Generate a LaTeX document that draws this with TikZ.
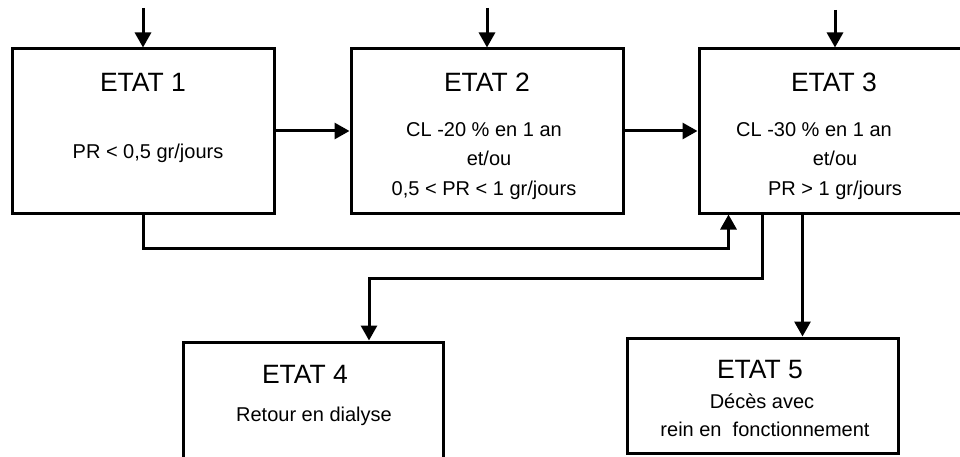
\documentclass[tikz,border=0pt]{standalone}
\usepackage{fontspec}
\setmainfont{Liberation Sans}
\usetikzlibrary{arrows.meta,calc}
\begin{document}
\begin{tikzpicture}[x=1pt,y=-1pt,
  box/.style={draw,line width=3pt,rectangle,inner sep=0pt},
  arr/.style={line width=3pt,-{Triangle[length=15pt,width=16pt]}},
  ttl/.style={anchor=base,inner sep=0pt,font=\fontsize{26.5}{30}\selectfont},
  txt/.style={anchor=base,inner sep=0pt,font=\fontsize{20}{24}\selectfont}]
\useasboundingbox (0,0) rectangle (960,457);
\clip (0,0) rectangle (960,457);
% boxes
\node[box,minimum width=262pt,minimum height=164pt] (e1) at (143,131) {};
\node[box,minimum width=272pt,minimum height=164pt] (e2) at (487,131) {};
\node[box,minimum width=280pt,minimum height=164pt] (e3) at (839,131) {};
\node[box,minimum width=260pt,minimum height=138pt] (e4) at (313,411) {};
\node[box,minimum width=271pt,minimum height=115pt] (e5) at (762.5,395.5) {};
% texts
\node[ttl] (e1t) at (143,92) {ETAT 1};
\node[txt] (e1a) at (148,159) {PR < 0,5 gr/jours};
\node[ttl] (e2t) at (487,92) {ETAT 2};
\node[txt] (e2a) at (484,137) {CL -20 \% en 1 an};
\node[txt] (e2b) at (489,166) {et/ou};
\node[txt] (e2c) at (484,195) {0,5 < PR < 1 gr/jours};
\node[ttl] (e3t) at (834,92) {ETAT 3};
\node[txt] (e3a) at (814,137) {CL -30 \% en 1 an};
\node[txt] (e3b) at (835,166) {et/ou};
\node[txt] (e3c) at (835,195) {PR > 1 gr/jours};
\node[ttl] (e4t) at (305,383) {ETAT 4};
\node[txt] (e4a) at (314,421) {Retour en dialyse};
\node[ttl] (e5t) at (760,378) {ETAT 5};
\node[txt] (e5a) at (762,408) {Décès avec};
\node[txt] (e5b) at (765,436) {rein en\ \ fonctionnement};
% incoming arrows
\coordinate (t1) at (143,8);
\coordinate (t2) at (487,8);
\coordinate (t3) at (835,10);
\draw[arr] (t1) -- (t1 |- e1.north);
\draw[arr] (t2) -- (t2 |- e2.north);
\draw[arr] (t3) -- (t3 |- e3.north);
% transitions
\draw[arr] (e1.east) -- (e2.west);
\draw[arr] (e2.east) -- (e3.west);
\coordinate (in3) at ([xshift=31pt]e3.south west);
\draw[arr] (e1.south) |- ($(in3)+(0,34)$) -- (in3);
\coordinate (o4) at ([xshift=65pt]e3.south west);
\coordinate (i4) at ([xshift=187.5pt]e4.north west);
\draw[arr] (o4) -- ++(0,64) -| (i4);
\coordinate (o5) at ([xshift=105pt]e3.south west);
\draw[arr] (o5) -- (o5 |- e5.north);
\end{tikzpicture}
\end{document}
